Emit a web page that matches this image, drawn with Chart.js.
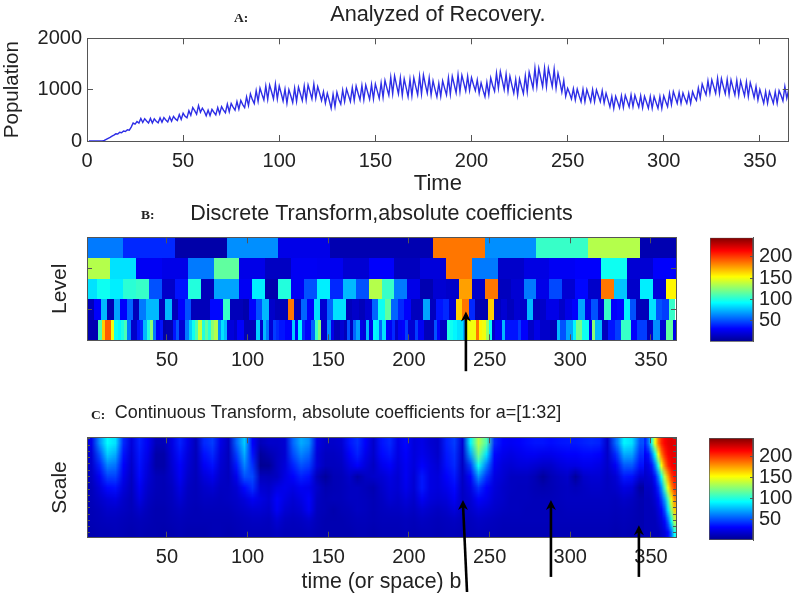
<!DOCTYPE html>
<html>
<head>
<meta charset="utf-8">
<title>Analyzed of Recovery</title>
<script src="https://cdn.jsdelivr.net/npm/chart.js@4/dist/chart.umd.min.js"></script>
<style>
  body { margin: 0; background: #fff; overflow: hidden; width: 797px; height: 596px; position: relative; }
  canvas { position: absolute; filter: blur(0.3px); }
  .tag { position: absolute; font: bold 13.5px "Liberation Serif", serif; color: #222; }
</style>
</head>
<body>
<canvas id="lineChart" width="797" height="197" style="left:0;top:0"></canvas>
<canvas id="levelChart" width="797" height="175" style="left:0;top:200px"></canvas>
<canvas id="levelBar" width="107" height="125" style="left:690px;top:225px"></canvas>
<canvas id="scaleChart" width="677" height="196" style="left:0;top:400px"></canvas>
<canvas id="scaleBar" width="107" height="125" style="left:690px;top:425px"></canvas>
<span class="tag" style="left:234px;top:10px">A:</span>
<span class="tag" style="left:141px;top:207px">B:</span>
<span class="tag" style="left:91px;top:407px">C:</span>
<script>
// Panel A: population per day
const population = [
  0,0,0,0,0,0,0,0,10,30,50,70,95,115,140,135,170,160,195,185,
  220,210,270,350,330,380,350,440,360,435,390,350,440,350,430,385,355,450,365,455,
  410,370,470,385,480,430,400,515,420,540,480,450,590,500,650,590,520,690,560,640,
  580,490,600,495,615,560,510,650,530,670,600,550,720,570,730,660,600,770,620,790,
  710,650,860,690,920,810,730,980,770,1030,910,800,1070,810,1090,960,820,1110,820,1070,
  930,780,1010,735,1000,880,750,1030,770,1050,920,786,1070,800,1090,960,820,1110,832,1060,
  930,790,962,740,930,790,637,910,670,950,810,720,990,766,1010,890,770,1040,790,1070,
  930,800,1080,805,1090,950,815,1100,820,1110,970,832,1130,850,1180,1030,890,1240,920,1267,
  1090,920,1230,890,1210,1040,865,1200,880,1230,1060,900,1260,920,1287,1100,930,1230,900,1170,
  1010,860,1124,870,1170,1030,897,1230,910,1260,1100,940,1287,962,1280,1130,975,1260,985,1235,
  1100,980,1190,930,1130,990,865,1140,900,1230,1080,970,1320,1027,1352,1180,1000,1300,970,1260,
  1090,930,1200,897,1210,1060,925,1270,960,1340,1190,1030,1417,1059,1417,1240,1059,1417,1059,1417,
  1240,1059,1400,1030,1320,1150,950,1180,870,1027,930,820,1020,800,1010,880,766,1005,766,1000,
  880,766,1000,766,995,880,766,980,740,930,800,665,865,637,870,760,645,880,655,890,
  780,665,897,670,890,770,660,880,650,870,760,637,865,637,865,750,637,865,637,880,
  770,670,930,710,962,850,735,945,735,935,830,735,930,735,960,860,790,1030,840,1110,
  1000,900,1170,930,1190,1060,930,1222,930,1215,1060,920,1200,905,1190,1040,897,1180,890,1165,
  1020,880,1150,865,1137,1000,845,1060,800,1000,870,735,962,735,960,850,735,960,735,980,
  890,780,1060,832,1000
];
const days = population.map((_, i) => i + 1);

// Panel B: absolute coefficients per level, coarsest level first
const level5 = [60,40,10,65,25,12,12,186,65,105,135,12];
const level4 = [135,85,28,25,60,115,25,16,28,27,20,30,15,22,186,60,18,24,28,30,95,20,30];
const level3 = [85,95,88,102,105,50,18,35,100,14,70,70,28,88,11,100,28,50,88,40,75,50,135,105,
  60,25,12,20,18,176,18,186,15,20,60,25,48,20,32,18,186,78,18,88,22,155];
const level2 = [14,30,75,12,70,30,55,14,60,75,75,14,75,14,30,50,14,14,14,32,32,105,14,14,11,30,50,75,18,14,14,186,
  14,55,30,85,20,55,85,85,14,18,14,20,55,95,115,55,40,30,15,15,70,15,35,40,20,165,186,40,12,12,165,15,
  20,15,20,18,75,15,18,25,25,18,25,30,70,25,50,20,105,30,32,90,50,14,14,85,50,45,105];
const level1 = [12,12,12,12,110,165,192,192,150,95,90,98,110,60,18,18,35,40,75,100,125,60,30,35,
  10,12,12,35,50,20,20,60,80,95,110,140,100,115,100,125,135,65,85,75,22,22,18,30,30,
  14,14,14,14,80,18,75,60,20,45,40,35,35,30,30,80,30,90,40,30,30,55,105,125,18,
  18,65,25,14,14,20,14,50,15,55,70,25,22,75,25,90,88,55,85,30,28,40,18,28,30,
  45,20,20,45,28,28,14,14,14,50,30,16,16,100,95,90,85,85,70,150,150,150,186,155,150,
  130,95,18,28,28,75,35,35,35,35,45,30,30,18,18,25,25,18,18,18,14,14,75,50,50,
  70,70,90,120,120,95,95,25,125,75,75,15,15,35,35,45,45,105,105,105,30,30,45,45,45,
  14,18,65,65,20,20,115,115,25];
const levelRows = [level5, level4, level3, level2, level1];
const levelWidths = [32, 16, 8, 4, 2];
const levelFirstEnds = [23, 15, 7, 5, 1.5];

// Panel C: continuous transform, small scales on top, one column every 5 days up to day 345
const scaleRow1 = [25,65,92,85,40,22,38,28,14,14,24,38,25,14,40,45,25,16,55,80,30,14,18,18,20,55,72,65,25,18,18,20,35,42,30,18,35,40,25,32,22,25,20,18,38,45,20,90,135,110,40,30,28,30,33,35,35,33,35,36,36,38,40,38,18,55,90,85,50];
const scaleRow2 = [20,50,80,72,35,20,36,25,10,10,22,34,22,14,34,40,22,15,45,72,35,7,12,16,20,48,62,55,22,16,16,18,30,38,26,18,32,36,24,30,22,26,22,18,36,42,18,70,120,85,32,26,24,26,28,28,26,26,28,30,30,32,32,30,18,40,72,70,42];
const scaleRow3 = [18,38,62,58,30,18,34,22,10,10,20,30,20,14,28,34,20,15,36,62,42,5,6,16,22,38,50,45,22,15,15,16,24,30,22,16,26,30,22,28,22,30,24,20,34,40,16,45,95,60,28,22,20,22,22,20,18,18,22,24,24,26,26,24,18,28,52,52,34];
const scaleRow4 = [16,28,46,46,26,16,32,20,14,13,18,28,18,14,22,26,18,15,26,50,48,15,14,16,24,30,38,34,14,7,13,14,18,10,16,18,20,24,20,28,20,36,24,22,30,36,16,30,65,42,24,20,16,16,16,13,7,13,16,18,7,18,20,20,16,20,36,34,20];
const scaleRow5 = [14,22,32,34,22,15,28,18,14,13,16,24,16,14,18,20,16,16,20,32,42,20,18,24,26,24,28,26,18,12,13,14,16,16,14,12,18,22,20,26,20,36,24,22,26,32,16,24,42,30,22,18,16,15,15,13,12,13,15,16,14,16,18,18,16,18,24,22,8];
const scaleRow6 = [14,18,22,24,18,14,24,16,13,13,15,20,15,14,16,16,15,16,18,22,28,24,20,30,24,20,24,30,16,13,14,14,16,16,15,13,16,20,18,22,18,28,22,20,22,28,16,20,30,26,20,18,15,15,15,14,14,14,15,16,16,16,16,16,16,15,18,16,12];
const scaleRow7 = [13,15,18,18,16,14,18,14,12,12,14,16,14,13,14,14,14,14,16,18,20,20,18,28,20,18,20,28,15,13,11,13,14,16,15,13,15,16,16,18,16,20,18,16,18,22,16,18,22,20,18,16,15,15,14,14,14,14,14,15,15,15,15,15,15,14,15,14,12];
const scaleRow8 = [13,14,15,15,14,13,14,13,12,12,13,14,13,13,13,13,13,13,14,15,16,16,15,20,16,15,16,18,14,12,12,12,13,14,14,13,14,14,14,15,14,16,15,14,15,16,14,15,17,16,15,14,14,14,14,14,14,14,14,14,14,14,14,14,14,13,14,13,12];
const scaleRow9 = [12,13,13,14,13,12,13,12,12,11,12,13,12,12,12,13,13,12,13,14,14,14,14,16,14,14,14,15,13,12,12,12,12,13,13,12,13,13,13,14,13,14,14,13,14,14,13,14,15,14,14,13,13,13,13,13,13,13,13,13,13,13,13,13,13,12,13,12,12];
const scaleRows = [scaleRow1,scaleRow2,scaleRow3,scaleRow4,scaleRow5,scaleRow6,scaleRow7,scaleRow8,scaleRow9];

// the end of the series (days 345-365) is read every 2 days because of the steep edge
const edgeRows = [
  [40,60,100,150,185,205,215,220,222,220],
  [30,35,60,95,150,185,205,215,220,220],
  [22,25,35,60,100,150,185,205,215,218],
  [18,20,22,35,60,95,140,175,200,210],
  [16,16,18,25,40,65,110,150,180,200],
  [14,14,16,20,28,45,70,110,150,180],
  [14,14,14,16,22,30,50,85,125,165],
  [14,14,14,14,18,22,32,55,90,135],
  [14,14,14,14,14,18,22,32,55,95]
];

// tick labels
const lineXTicks = [0,50,100,150,200,250,300,350];
const lineYTicks = [0,1000,2000];
const heatXTicks = [50,100,150,200,250,300,350];
const levelTicks = [2,4];
const scaleTicks = [1,3,5,7,9,11,13,15,17,19,21,23,25,27,29,31];
const colorTicks = [50,100,150,200];
const colorMax = 245;

// hand drawn arrows on the heatmaps, in axis units
const levelArrows = [{ tailX: 235.3, tailY: 7, tipX: 235.3, tipY: 4.1 }];
const scaleArrows = [
  { tailX: 236, tailY: 49.8, tipX: 233.5, tipY: 20.5 },
  { tailX: 288, tailY: 45, tipX: 288, tipY: 20.5 },
  { tailX: 342.5, tailY: 45, tipX: 342.5, tipY: 28.5 }
];

const ink = '#222';
const axisColor = '#555';
const labelFont = { family: '"Liberation Sans", Arial, sans-serif', size: 20 };

// matlab jet colormap
function jet(v) {
  const f = Math.min(Math.max(v / colorMax, 0), 1);
  const c = x => Math.round(255 * Math.min(Math.max(1.5 - Math.abs(4 * f - x), 0), 1));
  return `rgb(${c(3)},${c(2)},${c(1)})`;
}
const jetStops = [[0,'#00008f'],[0.125,'#0000ff'],[0.375,'#00ffff'],[0.625,'#ffff00'],[0.875,'#ff0000'],[1,'#800000']];

// ticks point inwards like in matlab, the labels keep their gap through the padding
function axis(min, max, tickValues, extra) {
  const tickLength = extra.tickLength || 6;
  return {
    type: 'linear', min, max,
    position: extra.position,
    reverse: !!extra.reverse,
    afterBuildTicks: s => { s.ticks = tickValues.map(value => ({ value })); },
    afterFit: s => {
      if (s.isHorizontal()) s.height = extra.size; else s.width = extra.size;
      s.paddingTop = s.paddingBottom = s.paddingLeft = s.paddingRight = 0;
    },
    grid: { display: true, drawOnChartArea: false, drawTicks: true, tickLength: -tickLength, tickColor: axisColor, z: 1 },
    border: { display: true, color: axisColor, width: 1, z: 1 },
    ticks: {
      display: !!extra.labels, autoSkip: false, maxRotation: 0, color: ink,
      font: labelFont, padding: tickLength + (extra.gap || 5),
      callback: v => String(v)
    },
    title: extra.title
      ? {
          display: true, text: extra.title, color: ink,
          font: { ...labelFont, size: extra.titleSize || 20 },
          padding: { top: extra.titleTop || 0, bottom: extra.titleBottom || 0 }
        }
      : { display: false }
  };
}

// block = height from the top of the canvas to the plot, middle = centre of the text
function chartTitle(text, size, block, middle, fullSize) {
  const top = middle - size * 0.6;
  return {
    display: true, text, color: ink, fullSize,
    font: { ...labelFont, size, weight: 'normal' },
    padding: { top, bottom: block - top - size * 1.2 }
  };
}

// cells of the discrete transform: every row has its own cell width
function levelCells(chart) {
  const { ctx, scales: { x, y } } = chart;
  levelRows.forEach((row, r) => {
    const top = Math.round(y.getPixelForValue(r + 0.5));
    const bottom = Math.round(y.getPixelForValue(r + 1.5));
    row.forEach((v, i) => {
      const from = i === 0 ? 0.5 : levelFirstEnds[r] + (i - 1) * levelWidths[r];
      const to = Math.min(levelFirstEnds[r] + i * levelWidths[r], 365.5);
      const left = Math.round(x.getPixelForValue(from));
      ctx.fillStyle = jet(v);
      ctx.fillRect(left, top, Math.round(x.getPixelForValue(to)) - left, bottom - top);
    });
  });
}

// continuous transform: paint the grid small, let the canvas smooth it when scaling
function paintGrid(chart, rows, from, to) {
  const { ctx, scales: { x, y } } = chart;
  const small = document.createElement('canvas');
  small.width = rows[0].length;
  small.height = rows.length;
  const sc = small.getContext('2d');
  rows.forEach((row, r) => row.forEach((v, c) => {
    sc.fillStyle = jet(v);
    sc.fillRect(c, r, 1, 1);
  }));
  const left = x.getPixelForValue(from);
  const top = y.getPixelForValue(0.5);
  ctx.imageSmoothingEnabled = true;
  ctx.drawImage(small, left, top, x.getPixelForValue(to) - left, y.getPixelForValue(32.5) - top);
}

function scaleCells(chart) {
  paintGrid(chart, scaleRows, 0.5, 345.5);
  paintGrid(chart, edgeRows, 345.5, 365.5);
}

function arrowPlugin(arrows) {
  return {
    id: 'arrows',
    afterDraw(chart) {
      const { ctx, scales: { x, y } } = chart;
      ctx.save();
      ctx.strokeStyle = ctx.fillStyle = '#000';
      ctx.lineWidth = 2.6;
      arrows.forEach(a => {
        const tx = x.getPixelForValue(a.tipX), ty = y.getPixelForValue(a.tipY);
        ctx.beginPath();
        ctx.moveTo(x.getPixelForValue(a.tailX), y.getPixelForValue(a.tailY));
        ctx.lineTo(tx, ty + 4);
        ctx.stroke();
        ctx.beginPath();
        ctx.moveTo(tx, ty);
        ctx.lineTo(tx + 5, ty + 10);
        ctx.lineTo(tx, ty + 7);
        ctx.lineTo(tx - 5, ty + 10);
        ctx.closePath();
        ctx.fill();
      });
      ctx.restore();
    }
  };
}

function heatChart(id, cells, arrows, yMin, yMax, yTicks, cfg) {
  return new Chart(document.getElementById(id), {
    type: 'scatter',
    data: { datasets: [{ data: [] }] },
    options: {
      responsive: false, animation: false,
      layout: { padding: { right: cfg.right } },
      plugins: { legend: { display: false }, tooltip: { enabled: false }, title: cfg.title },
      scales: {
        x: axis(0.5, 365.5, heatXTicks, { position: 'bottom', size: cfg.xSize, labels: true, gap: cfg.gap, title: cfg.xTitle, titleSize: 21.3, titleBottom: 1 }),
        x2: axis(0.5, 365.5, heatXTicks, { position: 'top', size: 0 }),
        y: axis(yMin, yMax, yTicks, { position: 'left', size: 87, reverse: true, tickLength: cfg.yTick, title: cfg.yTitle, titleSize: 21, titleTop: 48 }),
        y2: axis(yMin, yMax, yTicks, { position: 'right', size: 0, reverse: true, tickLength: cfg.yTick })
      }
    },
    plugins: [{ id: 'cells', beforeDatasetsDraw: cells }, arrowPlugin(arrows)]
  });
}

function colorBar(id, left, top, bottom) {
  return new Chart(document.getElementById(id), {
    type: 'bar',
    data: {
      labels: [''],
      datasets: [{
        data: [[0, colorMax]],
        barPercentage: 1, categoryPercentage: 1, borderSkipped: false,
        borderWidth: 1, borderColor: axisColor,
        backgroundColor: ctx => {
          const a = ctx.chart.chartArea;
          if (!a) return '#00f';
          const g = ctx.chart.ctx.createLinearGradient(0, a.bottom, 0, a.top);
          jetStops.forEach(s => g.addColorStop(s[0], s[1]));
          return g;
        }
      }]
    },
    options: {
      responsive: false, animation: false,
      layout: { padding: { left, top, bottom } },
      plugins: { legend: { display: false }, tooltip: { enabled: false } },
      scales: {
        x: { display: false },
        y: axis(0, colorMax, colorTicks, { position: 'right', size: 44, labels: true, tickLength: 3, gap: 6 })
      }
    }
  });
}

new Chart(document.getElementById('lineChart'), {
  type: 'line',
  data: {
    labels: days,
    datasets: [{ data: population.map((v, i) => ({ x: days[i], y: v })), borderColor: '#2e2ee6', borderWidth: 1.4, pointRadius: 0, tension: 0 }]
  },
  options: {
    responsive: false, animation: false,
    layout: { padding: { right: 8.3 } },
    plugins: {
      legend: { display: false }, tooltip: { enabled: false },
      title: chartTitle('Analyzed of Recovery.', 21.7, 38.3, 15, false)
    },
    scales: {
      x: axis(0, 365, lineXTicks, { position: 'bottom', size: 56, labels: true, gap: 8, title: 'Time', titleSize: 22 }),
      x2: axis(0, 365, lineXTicks, { position: 'top', size: 0 }),
      y: axis(0, 2000, lineYTicks, { position: 'left', size: 87, labels: true, title: 'Population', titleSize: 20.6 }),
      y2: axis(0, 2000, lineYTicks, { position: 'right', size: 0 })
    }
  }
});

heatChart('levelChart', levelCells, levelArrows, 0.5, 5.5, levelTicks, {
  right: 121, xSize: 34.7, gap: 8, yTick: 5, yTitle: 'Level',
  title: chartTitle('Discrete Transform,absolute coefficients', 21.5, 37.3, 14, false)
});
colorBar('levelBar', 20, 12.7, 8.3);

heatChart('scaleChart', scaleCells, scaleArrows, 0.5, 32.5, scaleTicks, {
  right: 1, xSize: 58.3, gap: 8, yTick: 3, yTitle: 'Scale', xTitle: 'time (or space) b',
  title: chartTitle('Continuous Transform, absolute coefficients for a=[1:32]', 18, 37.3, 13, true)
});
colorBar('scaleBar', 19, 13, 10);
</script>
</body>
</html>
